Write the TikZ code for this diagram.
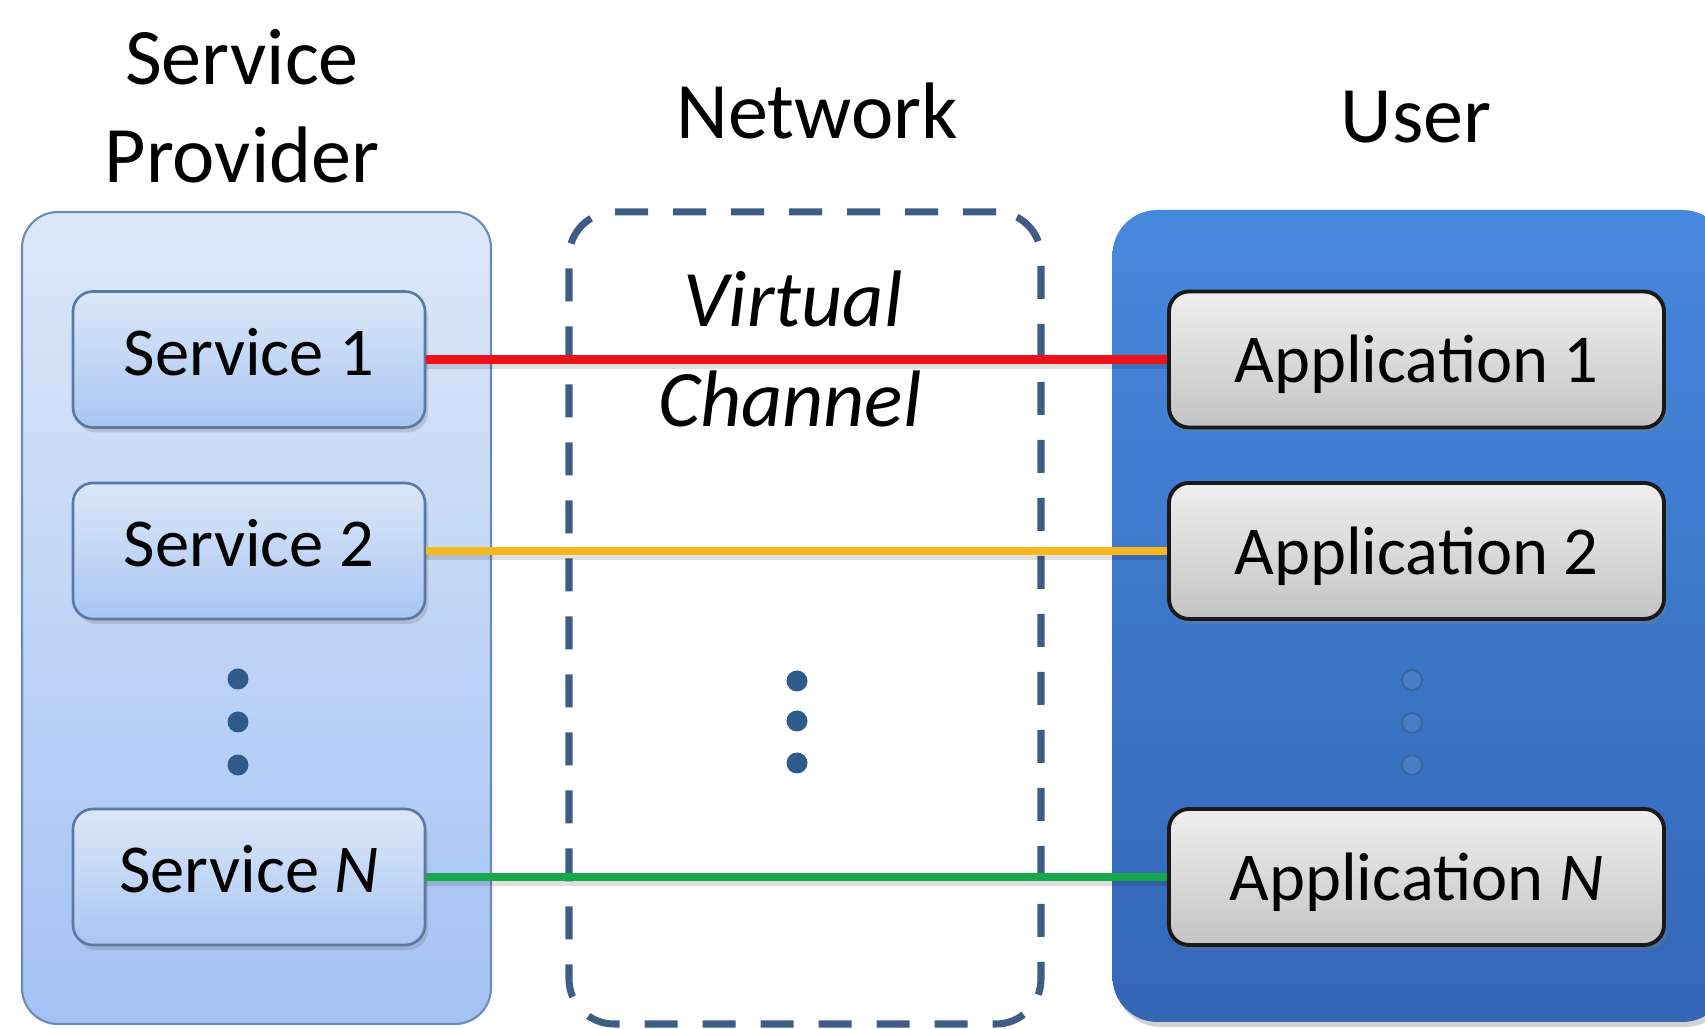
\documentclass[tikz,border=0pt]{standalone}
\usepackage{fontspec}
\setmainfont{Carlito}
\usetikzlibrary{shadows}

\definecolor{provTop}{HTML}{DDE8F9}
\definecolor{provBot}{HTML}{A3C2F4}
\definecolor{provEdge}{HTML}{6A8BB5}
\definecolor{svcTop}{HTML}{DCE7F8}
\definecolor{svcBot}{HTML}{A8C6F3}
\definecolor{svcEdge}{HTML}{5A7AA5}
\definecolor{userTop}{HTML}{4688DD}
\definecolor{userBot}{HTML}{3466B6}
\definecolor{appTop}{HTML}{EFEFEF}
\definecolor{appBot}{HTML}{C4C4C4}
\definecolor{netEdge}{HTML}{3E5C84}
\definecolor{dotBlue}{HTML}{2F5A8C}
\definecolor{dotUser}{HTML}{4A7EC4}
\definecolor{dotUserEdge}{HTML}{3A66A4}
\definecolor{linkRed}{HTML}{EC1218}
\definecolor{linkYellow}{HTML}{F6B81E}
\definecolor{linkGreen}{HTML}{17A84C}

\begin{document}
\begin{tikzpicture}[
  title/.style={font=\fontsize{22.8}{27}\selectfont, inner sep=0pt, anchor=base},
  italictitle/.style={font=\fontsize{22.8}{27}\selectfont\itshape, inner sep=0pt, anchor=base},
  container/.style={rounded corners=0.36cm, inner sep=0pt},
  provider/.style={container, draw=provEdge, line width=0.6pt,
    top color=provTop, bottom color=provBot,
    minimum width=4.69cm, minimum height=8.12cm},
  network/.style={container, draw=netEdge, line width=2pt,
    rounded corners=0.45cm, dash pattern=on 0.33cm off 0.25cm,
    minimum width=4.72cm, minimum height=8.12cm},
  userbox/.style={container, rounded corners=0.45cm,
    top color=userTop, bottom color=userBot,
    drop shadow={shadow xshift=0.03cm, shadow yshift=-0.05cm, opacity=0.35},
    minimum width=6.15cm, minimum height=8.12cm},
  svcbox/.style={rounded corners=0.2cm, draw=svcEdge, line width=0.75pt,
    top color=svcTop, bottom color=svcBot,
    drop shadow={shadow xshift=0.03cm, shadow yshift=-0.05cm, opacity=0.3},
    minimum width=3.52cm, minimum height=1.36cm, inner sep=0pt,
    font=\fontsize{19.5}{23}\selectfont, text height=0.45cm, text depth=0.13cm},
  appbox/.style={svcbox, draw=black!90, line width=1.1pt,
    top color=appTop, bottom color=appBot, minimum width=4.95cm,
    text height=0.47cm, text depth=0cm},
  dotmark/.style={circle, fill=dotBlue, inner sep=0pt, minimum size=0.21cm},
  userdot/.style={circle, fill=dotUser, draw=dotUserEdge, line width=0.6pt,
    inner sep=0pt, minimum size=0.2cm},
  link/.style={line width=2.3pt,
    preaction={draw=black, opacity=0.12, line width=2.5pt,
      transform canvas={yshift=-0.05cm}}},
]
\useasboundingbox (0,0) rectangle (17.05,-10.29);
\clip (0,0) rectangle (17.05,-10.29);

% column headings
\node[title] (spA) at (2.42,-0.85) {Service};
\node[title] (spB) at (2.42,-1.83) {Provider};
\node[title] (net) at (8.17,-1.39) {Network};
\node[title] (usr) at (14.16,-1.43) {User};

% the three columns
\node[provider] (prov) at (2.565,-6.18) {};
\node[network]  (netw) at (8.05,-6.18) {};
\node[userbox]  (user) at (14.20,-6.16) {};

% channel label
\node[italictitle] (virt) at (7.93,-3.27) {Virtual};
\node[italictitle] (chan) at (7.90,-4.27) {Channel};

% services
\node[svcbox] (s1) at (2.49,-3.595) {Service 1};
\node[svcbox] (s2) at (2.49,-5.51)  {Service 2};
\node[svcbox] (sn) at (2.49,-8.77)  {Service \textit{N}};

% applications
\node[appbox] (a1) at (14.165,-3.595) {Application 1};
\node[appbox] (a2) at (14.165,-5.51)  {Application 2};
\node[appbox] (an) at (14.165,-8.77)  {Application \textit{N}};

% ellipses
\node[dotmark] (pd1) at (2.38,-6.79) {};
\node[dotmark] (pd2) at (2.38,-7.22) {};
\node[dotmark] (pd3) at (2.38,-7.65) {};
\node[dotmark] (nd1) at (7.97,-6.81) {};
\node[dotmark] (nd2) at (7.97,-7.21) {};
\node[dotmark] (nd3) at (7.97,-7.63) {};
\node[userdot] (ud1) at (14.12,-6.80) {};
\node[userdot] (ud2) at (14.12,-7.23) {};
\node[userdot] (ud3) at (14.12,-7.65) {};

% virtual channels
\draw[link, linkRed]    (s1.east) -- (a1.west);
\draw[link, linkYellow] (s2.east) -- (a2.west);
\draw[link, linkGreen]  (sn.east) -- (an.west);
\end{tikzpicture}
\end{document}
